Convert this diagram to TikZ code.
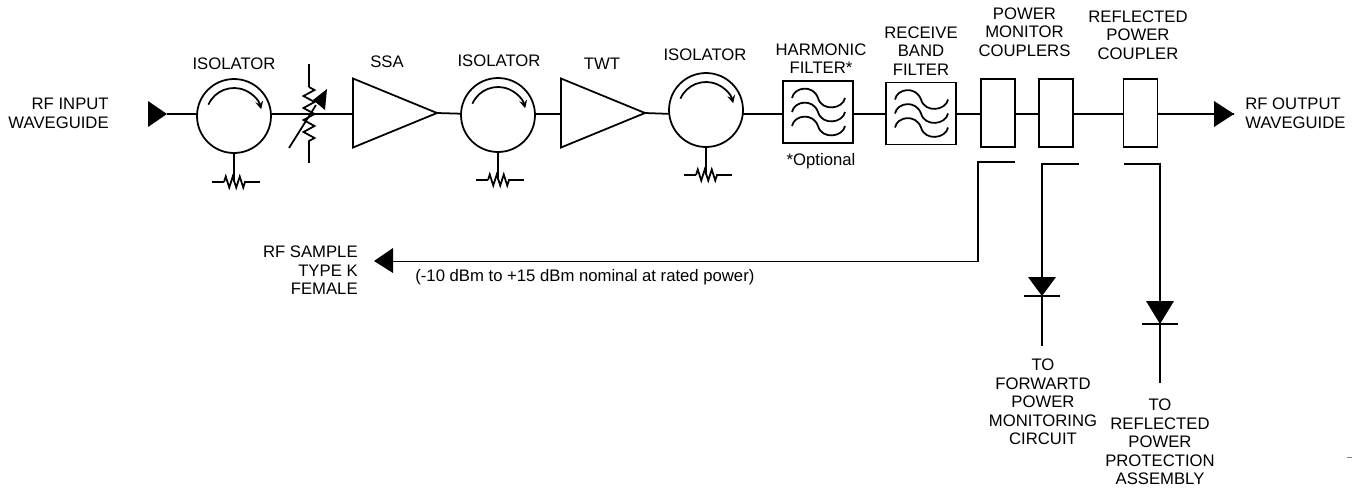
\documentclass[tikz,border=0pt]{standalone}
\usepackage{fontspec}
\setmainfont{Liberation Sans}
\usetikzlibrary{arrows, calc, decorations.pathmorphing, shapes.geometric}
\newcommand{\drawl}{\draw[line width=1pt]}
\newcommand{\drawwaves}[1]{
  \foreach \dy in {0,14,28}
    \draw[line width=1pt,shift={($(#1.north west)+(0,\dy)$)}] (9,17) .. controls (11,6) and (30,3) .. (35,17) .. controls (39,31) and (60,28) .. (62,17);
}
\begin{document}
\begin{tikzpicture}[x=0.02cm,y=-0.02cm,>=stealth,
  lbl/.style={font=\fontsize{9.5}{10.55}\selectfont,align=center,inner sep=0pt},
  isolator/.style={draw,circle,line width=1pt,minimum size=1.48cm,inner sep=0pt,outer sep=0pt},
  amp/.style={draw,isosceles triangle,isosceles triangle stretches,line width=1pt,minimum width=1.38cm,minimum height=1.68cm,inner sep=0pt,outer sep=0pt,anchor=apex},
  filterbox/.style={draw,rectangle,line width=1pt,minimum width=1.4cm,minimum height=1.24cm,inner sep=0pt,outer sep=0pt},
  coupler/.style={draw,rectangle,line width=1pt,minimum width=0.68cm,minimum height=1.36cm,inner sep=0pt,outer sep=0pt},
  res/.style={line width=1pt,decorate,decoration={zigzag,segment length=0.14cm,amplitude=0.11cm}},
  vres/.style={line width=1pt,decorate,decoration={zigzag,segment length=0.24cm,amplitude=0.11cm}}]
\useasboundingbox (0,0) rectangle (1359,488);
% Isolators
\foreach \name/\x/\y/\yr in {isoa/234/116/182,isob/498/115/180,isoc/706/110/175}{
  \node[isolator] (\name) at (\x,\y) {};
  \drawl[->] ($(\name.center)+(-156:28)$) arc[start angle=-156,end angle=-14,radius=28];
  \coordinate (\name r) at (\x,\yr);
  \drawl (\name.south) -- (\name r);
  \drawl ($(\name r)+(-22,0)$) -- ($(\name r)+(-10,0)$);
  \draw[res] ($(\name r)+(-10,0)$) -- ($(\name r)+(11,0)$);
  \drawl ($(\name r)+(11,0)$) -- ($(\name r)+(26,0)$);
}
% Amplifiers
\node[amp] (ssa) at (437,113) {};
\node[amp] (twt) at (645,113) {};
% Filters and couplers
\node[filterbox] (hf) at (818,112) {};
\node[filterbox] (rbf) at (921,113.5) {};
\drawwaves{hf}
\drawwaves{rbf}
\node[coupler] (cpa) at (998,113) {};
\node[coupler] (cpb) at (1056,113) {};
\node[coupler] (cpc) at (1140.5,113) {};
% Main line
\coordinate (rfin) at (167,114);
\coordinate (rfout) at (1234,114);
\fill (rfin) -- ++(-19,-13) -- ++(0,26) -- cycle;
\fill (rfout) -- ++(-20,13) -- ++(0,-26) -- cycle;
\drawl (rfin) -- (isoa.177);
\drawl (isoa.3) -- (isoa.3 -| ssa.lower side);
\drawl (ssa.apex) -- (isob.178);
\drawl (isob.2) -- (isob.2 -| twt.lower side);
\drawl (twt.apex) -- (isoc.186);
\drawl (isoc.-6) -- (isoc.-6 -| hf.west);
\drawl (isoc.-6 -| hf.east) -- (isoc.-6 -| rbf.west);
\drawl (isoc.-6 -| rbf.east) -- (isoc.-6 -| cpa.west);
\drawl (isoc.-6 -| cpa.east) -- (isoc.-6 -| cpb.west);
\drawl (isoc.-6 -| cpb.east) -- (isoc.-6 -| cpc.west);
\drawl (isoc.-6 -| cpc.east) -- (rfout);
% Variable attenuator
\coordinate (vtop) at (309,64);
\coordinate (vbot) at (309,163);
\coordinate (vup) at (309,87);
\coordinate (vdn) at (309,146);
\drawl (vtop) -- (vup);
\draw[vres] (vup) -- (vdn);
\drawl (vdn) -- (vbot);
\coordinate (vs) at (289,148);
\coordinate (vt) at (327,89);
\coordinate (vb) at (316,105);
\drawl (vs) -- (vb);
\fill (vt) -- ++(-14,11) -- ++(12,10) -- cycle;
% Sample outputs
\coordinate (spa) at (1015,162);
\coordinate (spb) at (978,162);
\coordinate (spc) at (978,261.5);
\coordinate (spd) at (393,261.5);
\drawl (spa) -- (spb) -- (spc) -- (spd);
\fill (374,261) -- ++(19,-13) -- ++(0,25) -- cycle;
% Forward power detector
\coordinate (fwa) at (1079,164);
\coordinate (fwb) at (1042,164);
\coordinate (fwd) at (1042,296);
\coordinate (fwe) at (1042,346);
\drawl (fwa) -- (fwb) -- (fwd) -- (fwe);
\fill (fwd) -- ++(-14,-19) -- ++(28,0) -- cycle;
\drawl ($(fwd)+(-18,0)$) -- ($(fwd)+(18,0)$);
% Reflected power detector
\coordinate (rfa) at (1124,164);
\coordinate (rfb) at (1160,164);
\coordinate (rfd) at (1160,324);
\coordinate (rfe) at (1160,383);
\drawl (rfa) -- (rfb) -- (rfd) -- (rfe);
\fill (rfd) -- ++(-14,-23) -- ++(28,0) -- cycle;
\drawl ($(rfd)+(-18,0)$) -- ($(rfd)+(18,0)$);
% Labels
\node[lbl] (lisoa) at (234,64) {ISOLATOR};
\node[lbl] (lisob) at (499,61) {ISOLATOR};
\node[lbl] (lisoc) at (705,55) {ISOLATOR};
\node[lbl] (lssa) at (387,62) {SSA};
\node[lbl] (ltwt) at (602,64) {TWT};
\node[lbl,align=right,anchor=east] (lin) at (109,113.5) {RF INPUT\\WAVEGUIDE};
\node[lbl,align=left,anchor=west] (lout) at (1245,113.5) {RF OUTPUT\\WAVEGUIDE};
\node[lbl] (lhf) at (821,58.5) {HARMONIC\\FILTER*};
\node[lbl] (lopt) at (821,161) {*Optional};
\node[lbl] (lrbf) at (921,51) {RECEIVE\\BAND\\FILTER};
\node[lbl] (lpmc) at (1024.5,32) {POWER\\MONITOR\\COUPLERS};
\node[lbl] (lrpc) at (1138,35) {REFLECTED\\POWER\\COUPLER};
\node[lbl,align=right,anchor=east] (lsmp) at (358,270.5) {RF SAMPLE\\TYPE K\\FEMALE};
\node[lbl,anchor=west] (lnom) at (415,277) {(-10 dBm to +15 dBm nominal at rated power)};
\node[lbl] (lfwd) at (1043,402) {TO\\FORWARTD\\POWER\\MONITORING\\CIRCUIT};
\node[lbl] (lrfl) at (1160,442) {TO\\REFLECTED\\POWER\\PROTECTION\\ASSEMBLY};
% Stray mark at the lower right
\draw[line width=0.5pt,color=gray] (1347,457) -- (1352,457);
\end{tikzpicture}
\end{document}
